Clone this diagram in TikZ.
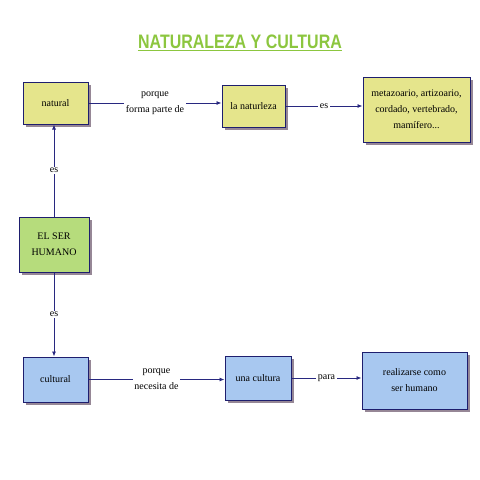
\documentclass[tikz,border=0pt]{standalone}
\usepackage{fontspec}
\setmainfont{Liberation Serif}
\newfontfamily\titlefont[FakeStretch=0.82]{Liberation Sans}
\usetikzlibrary{shadows,arrows.meta}

\definecolor{titlegreen}{RGB}{140,198,63}
\definecolor{boxyellow}{RGB}{229,229,140}
\definecolor{boxgreen}{RGB}{182,220,124}
\definecolor{boxblue}{RGB}{168,200,240}
\definecolor{boxborder}{RGB}{30,30,110}
\definecolor{linkblue}{RGB}{40,40,128}
\definecolor{shadowgray}{RGB}{150,135,150}

\tikzset{
  concept/.style={draw=boxborder, line width=1pt, align=center, inner sep=0pt,
    font=\fontsize{10}{16}\selectfont,
    drop shadow={opacity=1, fill=shadowgray, shadow xshift=3pt, shadow yshift=-3pt}},
  link/.style={draw=linkblue, line width=0.8pt, -{Latex[length=5pt,width=4pt]}},
  linklabel/.style={fill=white, inner sep=1.5pt, align=center,
    font=\fontsize{10}{16}\selectfont}
}

\begin{document}
\begin{tikzpicture}[x=1pt,y=-1pt]
\useasboundingbox (0,0) rectangle (480,480);

% Title
\node[font=\titlefont\bfseries\fontsize{19.5}{20}\selectfont, text=titlegreen,
  anchor=base, inner xsep=0pt] (title) at (240,48) {NATURALEZA Y CULTURA};
\draw[titlegreen, line width=1pt] ([yshift=-2.5pt]title.base west) -- ([yshift=-2.5pt]title.base east);

% Concept boxes
\node[concept, fill=boxyellow, minimum width=65pt, minimum height=42pt] (natural) at (55.5,103) {natural};
\node[concept, fill=boxyellow, minimum width=63pt, minimum height=42pt] (naturaleza) at (253.5,106) {la naturleza};
\node[concept, fill=boxyellow, minimum width=107pt, minimum height=65pt] (rasgos) at (416.5,109.5) {metazoario, artizoario,\\cordado, vertebrado,\\mamífero...};
\node[concept, fill=boxgreen, minimum width=70pt, minimum height=55pt] (ser) at (54,244.5) {EL SER\\HUMANO};
\node[concept, fill=boxblue, minimum width=65pt, minimum height=45pt] (cultural) at (55.5,379.5) {cultural};
\node[concept, fill=boxblue, minimum width=66pt, minimum height=44pt] (cultura) at (258,378) {una cultura};
\node[concept, fill=boxblue, minimum width=105pt, minimum height=57pt] (fin) at (414.5,380.5) {realizarse como\\ser humano};

% Links
\draw[link] (ser.north) -- (ser.north |- natural.south) node[linklabel, midway] (es1) {es};
\draw[link] (ser.south) -- (ser.south |- cultural.north) node[linklabel, midway] (es2) {es};
\draw[link] (natural.east) -- (natural.east -| naturaleza.west) node[linklabel, midway] (porque1) {porque\\forma parte de};
\draw[link] (naturaleza.east) -- (naturaleza.east -| rasgos.west) node[linklabel, midway] (es3) {es};
\draw[link] (cultural.east) -- (cultural.east -| cultura.west) node[linklabel, midway] (porque2) {porque\\necesita de};
\draw[link] (cultura.east) -- (cultura.east -| fin.west) node[linklabel, midway] (para) {para};

\end{tikzpicture}
\end{document}
